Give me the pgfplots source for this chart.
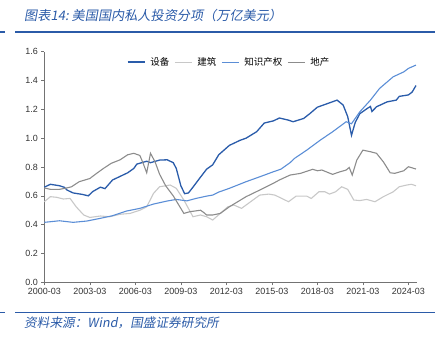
\documentclass[border=0pt]{standalone}
\usepackage{pgfplots}
\pgfplotsset{compat=1.18}
\usepackage{fontspec}
\setmainfont{Liberation Sans}
\newfontfamily\cjk{Noto Sans CJK SC}
\newfontfamily\cjkit[FakeSlant=0.18]{Noto Sans CJK SC}
\definecolor{sb}{HTML}{2A5CAA}
\definecolor{jz}{HTML}{C8C8C8}
\definecolor{zs}{HTML}{5B8ED6}
\definecolor{dc}{HTML}{8C8C8C}
\definecolor{tt}{HTML}{2B5BA8}
\begin{document}
\begin{tikzpicture}[x=1bp,y=1bp]
\path[use as bounding box] (0,0) rectangle (441,341);
% title and frame lines
\node[anchor=west,text=tt,font=\cjkit\fontsize{13.2}{14}\selectfont,inner sep=0] at (24,325) {图表14:\ 美国国内私人投资分项（万亿美元）};
\draw[tt,line width=1.4bp] (0,309) -- (5,309);
\draw[tt,line width=1.4bp] (15,309) -- (435,309);
\draw[tt,line width=1.4bp] (0,28.3) -- (5,28.3);
\draw[tt,line width=1.4bp] (15,28.3) -- (435,28.3);
\node[anchor=west,text=tt,font=\cjkit\fontsize{12.7}{13}\selectfont,inner sep=0] at (24,18.5) {资料来源：Wind，国盛证券研究所};
\begin{axis}[
  at={(44.3bp,58.7bp)}, anchor=south west,
  width=372.4bp, height=230.6bp, scale only axis,
  xmin=2000, xmax=2024.55, ymin=0, ymax=1.6,
  axis x line*=bottom, axis y line*=left,
  axis line style={color=black!55, line width=0.6bp},
  every tick/.style={color=black!55, line width=0.6bp},
  tick align=outside, major tick length=3bp,
  xtick={2000,2003,2006,2009,2012,2015,2018,2021,2024},
  xticklabels={2000-03,2003-03,2006-03,2009-03,2012-03,2015-03,2018-03,2021-03,2024-03},
  ytick={0,0.2,0.4,0.6,0.8,1.0,1.2,1.4,1.6},
  yticklabel style={/pgf/number format/fixed,/pgf/number format/fixed zerofill,/pgf/number format/precision=1},
  /pgf/number format/assume math mode=true,
  tick label style={font=\fontsize{9}{10}\selectfont, text=black!80},
  xticklabel style={yshift=1bp},
  legend style={at={(0.495,0.985)}, anchor=north, draw=none, fill=none,
    font=\cjk\fontsize{9.5}{10}\selectfont, column sep=4bp, inner sep=1bp,
    nodes={inner sep=1bp}},
  legend columns=4,
  legend image code/.code={\draw[#1] (0bp,0bp) -- (17bp,0bp);},
  clip=false,
]
\addplot[sb, line width=1.3bp] coordinates {
(2000.0,0.66)(2000.4,0.68)(2001.0,0.67)(2001.3,0.66)(2001.5,0.64)(2001.9,0.62)(2002.5,0.61)(2002.9,0.60)(2003.2,0.63)(2003.7,0.66)(2004.0,0.65)(2004.5,0.71)(2005.0,0.735)(2005.5,0.76)(2005.9,0.79)(2006.1,0.82)(2006.75,0.84)(2007.0,0.83)(2007.6,0.848)(2008.1,0.85)(2008.5,0.83)(2008.7,0.79)(2009.0,0.67)(2009.25,0.615)(2009.5,0.62)(2009.8,0.66)(2010.3,0.73)(2010.7,0.785)(2011.1,0.815)(2011.5,0.885)(2012.2,0.95)(2012.9,0.985)(2013.3,1.0)(2014.0,1.045)(2014.5,1.105)(2015.1,1.12)(2015.5,1.14)(2016.1,1.125)(2016.4,1.114)(2017.1,1.137)(2017.5,1.17)(2018.0,1.215)(2018.4,1.23)(2019.3,1.264)(2019.7,1.23)(2020.0,1.15)(2020.25,1.02)(2020.5,1.11)(2020.8,1.17)(2021.3,1.207)(2021.5,1.22)(2021.6,1.185)(2021.9,1.218)(2022.6,1.252)(2023.2,1.264)(2023.4,1.29)(2024.0,1.30)(2024.25,1.32)(2024.5,1.365)
};
\addlegendentry{设备}
\addplot[jz, line width=1.1bp] coordinates {
(2000.0,0.559)(2000.4,0.594)(2000.8,0.59)(2001.25,0.578)(2001.7,0.582)(2002.1,0.524)(2002.6,0.467)(2003.0,0.45)(2003.7,0.46)(2004.3,0.455)(2005.0,0.472)(2005.65,0.478)(2006.3,0.50)(2006.75,0.524)(2007.2,0.617)(2007.6,0.663)(2008.3,0.675)(2008.7,0.652)(2009.2,0.571)(2009.8,0.455)(2010.3,0.467)(2010.7,0.455)(2011.1,0.432)(2011.6,0.478)(2012.1,0.524)(2012.5,0.536)(2013.0,0.513)(2013.6,0.559)(2014.2,0.605)(2014.8,0.612)(2015.2,0.605)(2016.1,0.559)(2016.6,0.598)(2017.3,0.598)(2017.6,0.582)(2018.1,0.628)(2018.5,0.628)(2018.8,0.612)(2019.2,0.628)(2019.6,0.663)(2020.0,0.645)(2020.4,0.571)(2020.8,0.567)(2021.25,0.575)(2021.8,0.559)(2022.35,0.594)(2023.0,0.628)(2023.4,0.663)(2023.9,0.675)(2024.2,0.68)(2024.5,0.67)
};
\addlegendentry{建筑}
\addplot[zs, line width=1.1bp] coordinates {
(2000.0,0.416)(2001.0,0.427)(2001.9,0.416)(2002.8,0.425)(2003.7,0.444)(2004.5,0.462)(2005.4,0.494)(2006.3,0.513)(2007.2,0.543)(2008.1,0.564)(2008.7,0.575)(2009.4,0.565)(2010.0,0.582)(2010.7,0.598)(2011.1,0.605)(2011.5,0.626)(2012.2,0.652)(2013.3,0.698)(2014.2,0.732)(2015.1,0.767)(2015.6,0.785)(2016.2,0.83)(2016.5,0.86)(2017.3,0.917)(2018.2,0.987)(2019.0,1.044)(2019.9,1.114)(2020.25,1.10)(2020.8,1.183)(2021.5,1.264)(2022.1,1.345)(2023.0,1.426)(2023.7,1.46)(2024.0,1.484)(2024.5,1.507)
};
\addlegendentry{知识产权}
\addplot[dc, line width=1.1bp] coordinates {
(2000.0,0.655)(2000.4,0.645)(2001.0,0.645)(2001.5,0.655)(2001.8,0.663)(2002.3,0.698)(2003.0,0.72)(2003.45,0.756)(2003.9,0.79)(2004.4,0.825)(2005.0,0.85)(2005.5,0.885)(2005.9,0.895)(2006.3,0.88)(2006.5,0.83)(2006.75,0.76)(2007.0,0.895)(2007.3,0.836)(2007.6,0.75)(2008.0,0.67)(2008.5,0.60)(2009.2,0.478)(2009.6,0.49)(2010.3,0.50)(2010.5,0.485)(2010.7,0.467)(2011.1,0.467)(2011.6,0.478)(2012.2,0.524)(2013.3,0.594)(2014.2,0.64)(2015.1,0.687)(2015.5,0.71)(2016.2,0.744)(2016.9,0.756)(2017.2,0.767)(2017.7,0.784)(2018.0,0.774)(2018.3,0.779)(2019.0,0.749)(2019.5,0.767)(2019.9,0.779)(2020.1,0.797)(2020.3,0.744)(2020.6,0.848)(2021.0,0.917)(2021.5,0.906)(2021.9,0.895)(2022.35,0.836)(2022.8,0.76)(2023.1,0.756)(2023.7,0.774)(2024.0,0.802)(2024.5,0.786)
};
\addlegendentry{地产}
\end{axis}
\end{tikzpicture}
\end{document}
